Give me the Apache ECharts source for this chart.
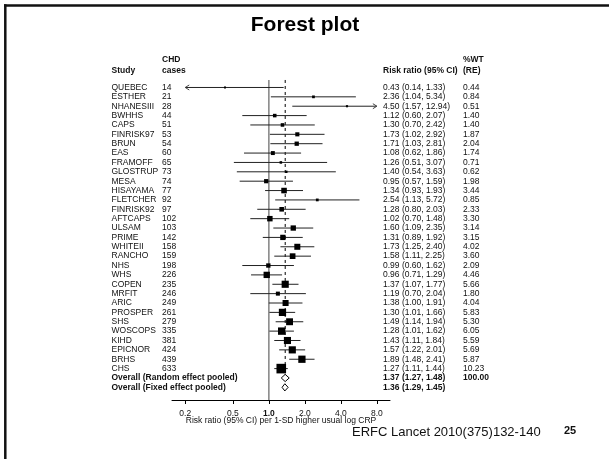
<!DOCTYPE html>
<html>
<head>
<meta charset="utf-8">
<script src="https://cdn.jsdelivr.net/npm/echarts@6/dist/echarts.min.js"></script>
<style>
  html, body { margin: 0; padding: 0; background: #fff; }
  #chart { width: 610px; height: 459px; }
</style>
</head>
<body>
<div id="chart"></div>
<script>
// Per-study estimates: CRP and coronary heart disease (risk ratio per 1-SD higher usual log CRP)
const studies = ['QUEBEC', 'ESTHER', 'NHANESIII', 'BWHHS', 'CAPS', 'FINRISK97', 'BRUN', 'EAS', 'FRAMOFF',
  'GLOSTRUP', 'MESA', 'HISAYAMA', 'FLETCHER', 'FINRISK92', 'AFTCAPS', 'ULSAM', 'PRIME', 'WHITEII', 'RANCHO',
  'NHS', 'WHS', 'COPEN', 'MRFIT', 'ARIC', 'PROSPER', 'SHS', 'WOSCOPS', 'KIHD', 'EPICNOR', 'BRHS', 'CHS'];
const cases = [14, 21, 28, 44, 51, 53, 54, 60, 65, 73, 74, 77, 92, 97, 102, 103, 142, 158, 159, 198, 226, 235,
  246, 249, 261, 279, 335, 381, 424, 439, 633];
const riskRatio = [0.43, 2.36, 4.50, 1.12, 1.30, 1.73, 1.71, 1.08, 1.26, 1.40, 0.95, 1.34, 2.54, 1.28, 1.02,
  1.60, 1.31, 1.73, 1.58, 0.99, 0.96, 1.37, 1.19, 1.38, 1.30, 1.49, 1.28, 1.43, 1.57, 1.89, 1.27];
const ciLow = [0.14, 1.04, 1.57, 0.60, 0.70, 1.02, 1.03, 0.62, 0.51, 0.54, 0.57, 0.93, 1.13, 0.80, 0.70,
  1.09, 0.89, 1.25, 1.11, 0.60, 0.71, 1.07, 0.70, 1.00, 1.01, 1.14, 1.01, 1.11, 1.22, 1.48, 1.11];
const ciHigh = [1.33, 5.34, 12.94, 2.07, 2.42, 2.92, 2.81, 1.86, 3.07, 3.63, 1.59, 1.93, 5.72, 2.03, 1.48,
  2.35, 1.92, 2.40, 2.25, 1.62, 1.29, 1.77, 2.04, 1.91, 1.66, 1.94, 1.62, 1.84, 2.01, 2.41, 1.44];
const weightRE = [0.44, 0.84, 0.51, 1.40, 1.40, 1.87, 2.04, 1.74, 0.71, 0.62, 1.98, 3.44, 0.85, 2.33, 3.30,
  3.14, 3.15, 4.02, 3.60, 2.09, 4.46, 5.66, 1.80, 4.04, 5.83, 5.30, 6.05, 5.59, 5.69, 5.87, 10.23];

// Pooled estimates
const pooledLabels = ['Overall (Random effect pooled)', 'Overall (Fixed effect pooled)'];
const pooledRR = [1.37, 1.36];
const pooledLow = [1.27, 1.29];
const pooledHigh = [1.48, 1.45];
const pooledWeight = ['100.00', ''];

// Axis tick values (log scale)
const xTicks = [0.2, 0.5, 1.0, 2.0, 4.0, 8.0];

const FONT = '"Liberation Sans", Arial, sans-serif';
const TXT = '#111';
const CLIP_LO = 0.2, CLIP_HI = 8;
const fmt2 = v => v.toFixed(2);
const ciText = (r, l, h) => fmt2(r) + ' (' + fmt2(l) + ', ' + fmt2(h) + ')';

const nStudies = studies.length;
const studyData = studies.map((s, i) => [i, riskRatio[i], ciLow[i], ciHigh[i], weightRE[i]]);
const pooledData = pooledRR.map((r, k) => [nStudies + k, r, pooledLow[k], pooledHigh[k]]);

// table rows: study name, cases, RR text, weight
const tableRows = studies.map((s, i) => ({
  name: s, cases: String(cases[i]), rr: ciText(riskRatio[i], ciLow[i], ciHigh[i]),
  wt: fmt2(weightRE[i]), bold: false
})).concat(pooledLabels.map((s, k) => ({
  name: s, cases: '', rr: ciText(pooledRR[k], pooledLow[k], pooledHigh[k]),
  wt: pooledWeight[k], bold: true
})));
const tableData = tableRows.map((r, i) => [1, i]);

const COL_STUDY = 111.5, COL_CASES = 162, COL_RR = 383, COL_WT = 463;

const chart = echarts.init(document.getElementById('chart'), null, { renderer: 'canvas' });

function txt(x, y, text, bold, size) {
  return {
    type: 'text', x: x, y: y,
    style: {
      text: text, fill: TXT, align: 'left', verticalAlign: 'middle',
      font: (bold ? 'bold ' : '') + (size || 8.5) + 'px ' + FONT
    }
  };
}

const option = {
  animation: false,
  backgroundColor: '#fff',
  title: {
    text: 'Forest plot', left: 'center', top: 10,
    textStyle: { fontFamily: FONT, fontSize: 21, fontWeight: 'bold', color: '#000' }
  },
  grid: { left: 172, right: 220, top: 78.1, bottom: 59, outerBoundsMode: 'none' },
  xAxis: {
    type: 'log', logBase: 2, min: 0.155, max: 10.3,
    axisLine: { show: true, onZero: false, lineStyle: { color: '#000', width: 1 } },
    axisTick: { show: true, customValues: xTicks, length: 4, lineStyle: { color: '#000', width: 1 } },
    axisLabel: {
      customValues: xTicks, margin: 9, fontFamily: FONT, fontSize: 8.5, color: TXT,
      formatter: v => Math.abs(v - 1) < 1e-9 ? '{b|1.0}' : Number(v).toFixed(1),
      rich: { b: { fontFamily: FONT, fontSize: 8.5, fontWeight: 'bold', color: TXT } }
    },
    splitLine: { show: false },
    minorTick: { show: false },
    name: 'Risk ratio (95% CI) per 1-SD higher usual log CRP',
    nameLocation: 'middle', nameGap: 16.5, nameMoveOverlap: false,
    nameTextStyle: { fontFamily: FONT, fontSize: 8.5, color: TXT }
  },
  yAxis: { type: 'value', inverse: true, min: -1, max: 33.35, show: false },
  graphic: [
    // page frame (top and left edges)
    { type: 'line', shape: { x1: 4, y1: 5.5, x2: 609, y2: 5.5 }, style: { stroke: '#111', lineWidth: 2.5 } },
    { type: 'line', shape: { x1: 5.3, y1: 4.3, x2: 5.3, y2: 459 }, style: { stroke: '#111', lineWidth: 2.5 } },
    // column headers
    txt(COL_STUDY, 70.5, 'Study', true),
    txt(COL_CASES, 60, 'CHD', true),
    txt(COL_CASES, 70.5, 'cases', true),
    txt(COL_RR, 70.5, 'Risk ratio (95% CI)', true),
    txt(COL_WT, 60, '%WT', true),
    txt(COL_WT, 70.5, '(RE)', true),
    // citation footer
    txt(352, 432, 'ERFC Lancet 2010(375)132-140', false, 13),
    txt(564, 431, '25', true, 11)
  ],
  series: [
    {
      // reference lines: null effect (solid) and pooled estimate (dashed)
      type: 'custom', silent: true, z: 1,
      data: [[1, 0], [pooledRR[0], 1]],
      encode: { x: 0, y: 1 },
      renderItem: function (params, api) {
        const v = api.value(0);
        const dashed = params.dataIndex === 1;
        const top = api.coord([v, -0.8]);
        const bottom = api.coord([v, dashed ? 30.65 : 33.35]);
        return {
          type: 'line',
          shape: { x1: top[0], y1: top[1], x2: bottom[0], y2: bottom[1] },
          style: dashed
            ? { stroke: '#000', lineWidth: 1, lineDash: [3, 3] }
            : { stroke: '#8a8a8a', lineWidth: 1.6 }
        };
      }
    },
    {
      // per-study confidence intervals and weighted squares
      type: 'custom', silent: true, z: 3,
      data: studyData,
      encode: { x: [1, 2, 3], y: 0 },
      renderItem: function (params, api) {
        const row = api.value(0);
        const rr = api.value(1), lo = api.value(2), hi = api.value(3), w = api.value(4);
        const c = api.coord([rr, row]);
        const l = api.coord([Math.max(lo, CLIP_LO), row]);
        const h = api.coord([Math.min(hi, CLIP_HI), row]);
        const y = c[1];
        const children = [{
          type: 'line', shape: { x1: l[0], y1: y, x2: h[0], y2: y },
          style: { stroke: '#222', lineWidth: 1 }
        }];
        if (lo < CLIP_LO) {
          children.push({ type: 'polyline', shape: { points: [[l[0] + 4, y - 2.5], [l[0], y], [l[0] + 4, y + 2.5]] },
            style: { stroke: '#444', lineWidth: 1, fill: null } });
        }
        if (hi > CLIP_HI) {
          children.push({ type: 'polyline', shape: { points: [[h[0] - 4, y - 2.5], [h[0], y], [h[0] - 4, y + 2.5]] },
            style: { stroke: '#444', lineWidth: 1, fill: null } });
        }
        const side = Math.max(2, 3 * Math.sqrt(w));
        children.push({
          type: 'rect', shape: { x: c[0] - side / 2, y: y - side / 2, width: side, height: side },
          style: { fill: '#000' }
        });
        return { type: 'group', children: children };
      }
    },
    {
      // pooled estimates as open diamonds
      type: 'custom', silent: true, z: 3,
      data: pooledData,
      encode: { x: [1, 2, 3], y: 0 },
      renderItem: function (params, api) {
        const row = api.value(0);
        const c = api.coord([api.value(1), row]);
        const l = api.coord([api.value(2), row]);
        const h = api.coord([api.value(3), row]);
        const y = c[1];
        return {
          type: 'polygon',
          shape: { points: [[l[0], y], [c[0], y - 3.6], [h[0], y], [c[0], y + 3.6]] },
          style: { fill: '#fff', stroke: '#000', lineWidth: 1 }
        };
      }
    },
    {
      // table columns aligned to rows
      type: 'custom', silent: true, z: 4,
      data: tableData,
      encode: { x: 0, y: 1 },
      renderItem: function (params, api) {
        const row = tableRows[params.dataIndex];
        const y = api.coord([1, api.value(1)])[1];
        const b = row.bold;
        const children = [txt(COL_STUDY, y, row.name, b)];
        if (row.cases) children.push(txt(COL_CASES, y, row.cases, b));
        children.push(txt(COL_RR, y, row.rr, b));
        if (row.wt) children.push(txt(COL_WT, y, row.wt, b));
        return { type: 'group', children: children };
      }
    }
  ]
};

chart.setOption(option);
</script>
</body>
</html>
